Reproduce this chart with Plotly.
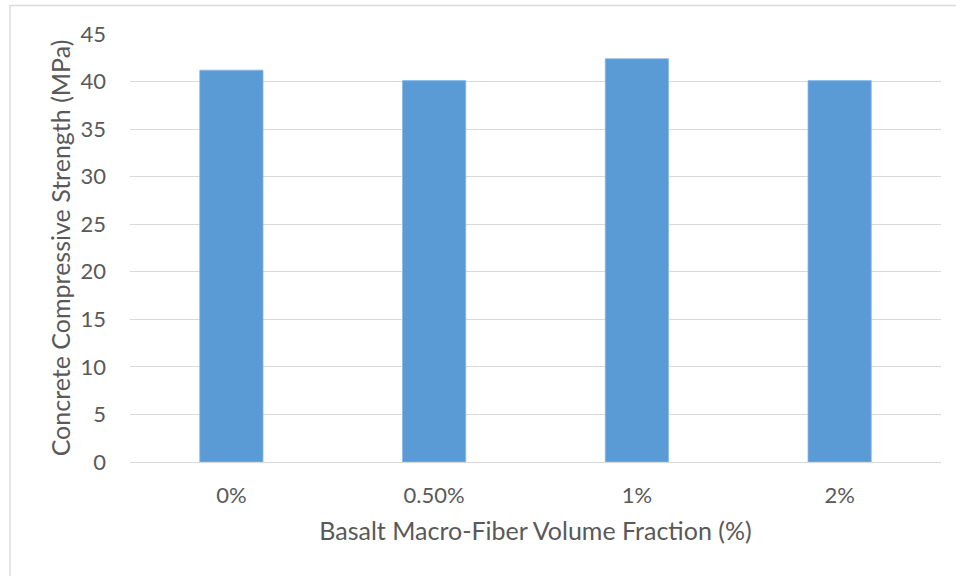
import plotly.graph_objects as go

# Compressive strength by basalt macro-fiber dosage
fractions = ["0%", "0.50%", "1%", "2%"]
strength_mpa = [41.2, 40.1, 42.4, 40.1]

y_ticks = [0, 5, 10, 15, 20, 25, 30, 35, 40, 45]

W, H = 956, 576
ML, MR, MT, MB = 130, 15, 34, 114
TEXT = "#595959"
GRID = "#D9D9D9"
FONT = "Lato, 'Open Sans', sans-serif"

fig = go.Figure(
    go.Bar(
        x=fractions,
        y=strength_mpa,
        marker=dict(color="#5B9BD5", line=dict(color="#8DB8E3", width=0.8)),
        hoverinfo="x+y",
    )
)

pw, ph = W - ML - MR, H - MT - MB
# outer chart frame (runs off the right and bottom edges)
fig.add_shape(
    type="rect", xref="paper", yref="paper",
    x0=(10 - ML) / pw, x1=(W + 10 - ML) / pw,
    y0=-(H + 10 - MT - ph) / ph, y1=(ph + MT - 5.5) / ph,
    line=dict(color=GRID, width=1.3), fillcolor="rgba(0,0,0,0)", layer="below",
)

fig.update_layout(
    width=W, height=H,
    margin=dict(l=ML, r=MR, t=MT, b=MB, pad=0),
    paper_bgcolor="white", plot_bgcolor="white",
    bargap=0.688,
    showlegend=False,
    font=dict(family=FONT, color=TEXT),
    xaxis=dict(
        title=dict(text="Basalt Macro-Fiber Volume Fraction (%)",
                   font=dict(size=25, color=TEXT), standoff=15),
        tickfont=dict(size=22, color=TEXT),
        showline=True, linecolor=GRID, linewidth=1.3,
        ticks="", ticklabelstandoff=13,
        showgrid=False,
    ),
    yaxis=dict(
        title=dict(text="Concrete Compressive Strength (MPa)",
                   font=dict(size=25, color=TEXT), standoff=2),
        range=[0, 45], tickvals=y_ticks,
        tickfont=dict(size=22, color=TEXT),
        showgrid=True, gridcolor=GRID, gridwidth=1.3,
        zeroline=False, showline=False,
        ticks="", ticklabelstandoff=23,
    ),
)

fig.write_html("out.html")
